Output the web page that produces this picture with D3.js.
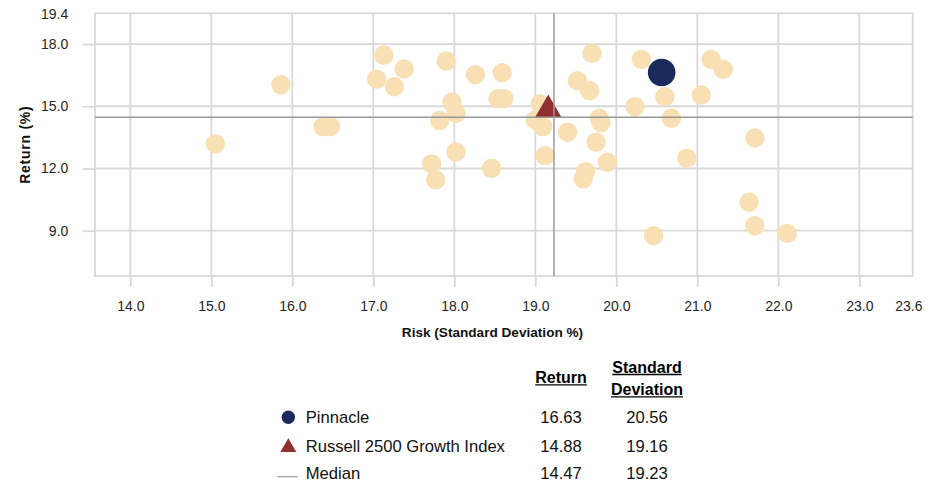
<!DOCTYPE html>
<html><head><meta charset="utf-8">
<script src="https://cdn.jsdelivr.net/npm/d3@7"></script>
<style>
body{margin:0;background:#fff}
text{font-family:"Liberation Sans",Arial,sans-serif}
</style>
</head><body>
<svg id="c" width="944" height="483"></svg>
<script>
// ---- data ----
const peerRisk   = [15.05,15.86,16.38,16.47,17.13,17.38,17.04,17.26,17.90,18.26,18.59,18.54,18.61,17.97,18.02,17.82,18.02,17.72,17.77,18.46,19.06,19.00,19.09,19.12,19.40,19.70,19.52,19.67,19.79,19.81,19.75,19.89,19.62,19.59,20.31,21.17,21.32,20.60,21.05,20.23,20.68,21.71,20.87,20.46,21.64,21.71,22.11];
const peerReturn = [13.19,16.04,14.02,14.02,17.47,16.80,16.31,15.94,17.18,16.52,16.62,15.37,15.37,15.19,14.66,14.31,12.80,12.22,11.45,12.01,15.11,14.34,14.02,12.62,13.75,17.55,16.23,15.75,14.42,14.21,13.27,12.30,11.85,11.50,17.26,17.26,16.78,15.46,15.54,14.98,14.42,13.47,12.50,8.76,10.38,9.24,8.87];
const legendNames   = ["Pinnacle","Russell 2500 Growth Index","Median"];
const legendReturns = [16.63,14.88,14.47];
const legendSDs     = [20.56,19.16,19.23];
const xTicks = [14,15,16,17,18,19,20,21,22,23];
const xEndLabel = 23.6;
const yTicks = [9,12,15,18];
const yEndLabel = 19.4;
const xDomain = [13.564, 23.659];
const yDomain = [6.816, 19.482];

// ---- layout ----
const svg = d3.select("#c");
const L = 95, R = 912.7, T = 13.3, B = 276;
const x = d3.scaleLinear().domain(xDomain).range([L, R]);
const y = d3.scaleLinear().domain(yDomain).range([B, T]);
const gridC = "#d9d9d9", medC = "#999999", tan = "#f8dfb4", navy = "#192a5b", red = "#8e2f2f", txt = "#262626";

svg.append("rect").attr("width",944).attr("height",483).attr("fill","#fff");

// gridlines
const g = svg.append("g");
g.selectAll("line.v").data(xTicks).join("line")
  .attr("x1",d=>x(d)).attr("x2",d=>x(d)).attr("y1",T).attr("y2",B)
  .attr("stroke",gridC).attr("stroke-width",1.8);
g.selectAll("line.h").data(yTicks).join("line")
  .attr("x1",L).attr("x2",R).attr("y1",d=>y(d)).attr("y2",d=>y(d))
  .attr("stroke",gridC).attr("stroke-width",1.8);
g.append("rect").attr("x",L).attr("y",T).attr("width",R-L).attr("height",B-T)
  .attr("fill","none").attr("stroke",gridC).attr("stroke-width",1.8);

// axes
const xAxis = svg.append("g").attr("transform",`translate(0,${B})`)
  .call(d3.axisBottom(x).tickValues(xTicks).tickSize(11).tickPadding(14).tickFormat(d3.format(".1f")));
const yAxis = svg.append("g").attr("transform",`translate(${L},0)`)
  .call(d3.axisLeft(y).tickValues(yTicks).tickSize(12.3).tickPadding(14.4).tickFormat(d3.format(".1f")));
[xAxis,yAxis].forEach(a=>{
  a.select(".domain").remove();
  a.selectAll(".tick line").attr("stroke",gridC).attr("stroke-width",1.8);
  a.selectAll(".tick text").attr("fill",txt).style("font-size","14px").style("font-family","'Liberation Sans',Arial,sans-serif");
});
svg.append("text").attr("x",x(xEndLabel)+1).attr("y",B+11+14).attr("dy","0.71em")
  .attr("text-anchor","middle").attr("fill",txt).style("font-size","14px").text(xEndLabel.toFixed(1));
svg.append("text").attr("x",L-26.7).attr("y",y(yEndLabel)).attr("dy","0.32em")
  .attr("text-anchor","end").attr("fill",txt).style("font-size","14px").text(yEndLabel.toFixed(1));

// axis titles
svg.append("text").attr("x",492.5).attr("y",336.5).attr("text-anchor","middle")
  .attr("fill","#111").style("font-size","13.6px").style("font-weight","bold")
  .text("Risk (Standard Deviation %)");
svg.append("text").attr("transform",`translate(30,${(T+B)/2}) rotate(-90)`)
  .attr("text-anchor","middle").attr("fill","#111").style("font-size","14px").style("font-weight","bold")
  .style("letter-spacing","0.75px").text("Return (%)");

// peers
const peers = peerRisk.map((r,i)=>({r, ret: peerReturn[i]}));
svg.append("g").selectAll("circle").data(peers).join("circle")
  .attr("cx",d=>x(d.r)).attr("cy",d=>y(d.ret)).attr("r",9.7).attr("fill",tan);

// benchmark triangle
const tri = d3.symbol().type(d3.symbolTriangle).size(300);
svg.append("path").attr("d",tri)
  .attr("transform",`translate(${x(legendSDs[1])},${y(legendReturns[1])+1})`)
  .attr("fill",red);

// pinnacle
svg.append("circle").attr("cx",x(legendSDs[0])).attr("cy",y(legendReturns[0])).attr("r",13.8).attr("fill",navy);

// median lines
svg.append("line").attr("x1",L).attr("x2",R).attr("y1",y(legendReturns[2])).attr("y2",y(legendReturns[2]))
  .attr("stroke",medC).attr("stroke-width",1.5);
svg.append("line").attr("x1",x(legendSDs[2])).attr("x2",x(legendSDs[2])).attr("y1",T).attr("y2",B)
  .attr("stroke",medC).attr("stroke-width",1.5);

// ---- legend table ----
const lg = svg.append("g");
const colRet = 561, colSD = 647;
const hdr = (t, cx, by) => {
  const el = lg.append("text").attr("x",cx).attr("y",by).attr("text-anchor","middle")
    .attr("fill","#000").style("font-size","16px").style("font-weight","bold").text(t);
  const w = el.node().getComputedTextLength();
  lg.append("line").attr("x1",cx-w/2).attr("x2",cx+w/2).attr("y1",by+1.8).attr("y2",by+1.8)
    .attr("stroke","#000").attr("stroke-width",1.3);
};
hdr("Return", colRet, 383);
hdr("Standard", colSD, 372.7);
hdr("Deviation", colSD, 395);

const rowY = [417.3, 446, 473.3];
legendNames.forEach((n,i)=>{
  lg.append("text").attr("x",305.7).attr("y",rowY[i]).attr("dy","0.36em")
    .attr("fill","#111").style("font-size","16.6px").text(n);
  lg.append("text").attr("x",colRet).attr("y",rowY[i]).attr("dy","0.36em").attr("text-anchor","middle")
    .attr("fill","#111").style("font-size","16.6px").text(legendReturns[i].toFixed(2));
  lg.append("text").attr("x",colSD).attr("y",rowY[i]).attr("dy","0.36em").attr("text-anchor","middle")
    .attr("fill","#111").style("font-size","16.6px").text(legendSDs[i].toFixed(2));
});
lg.append("circle").attr("cx",288.3).attr("cy",rowY[0]).attr("r",6.7).attr("fill",navy);
lg.append("path").attr("d",d3.symbol().type(d3.symbolTriangle).size(110))
  .attr("transform",`translate(288.3,${rowY[1]+1.5})`).attr("fill",red);
lg.append("line").attr("x1",277.3).attr("x2",297.7).attr("y1",476.7).attr("y2",476.7)
  .attr("stroke",medC).attr("stroke-width",1.2);
</script>
</body></html>
